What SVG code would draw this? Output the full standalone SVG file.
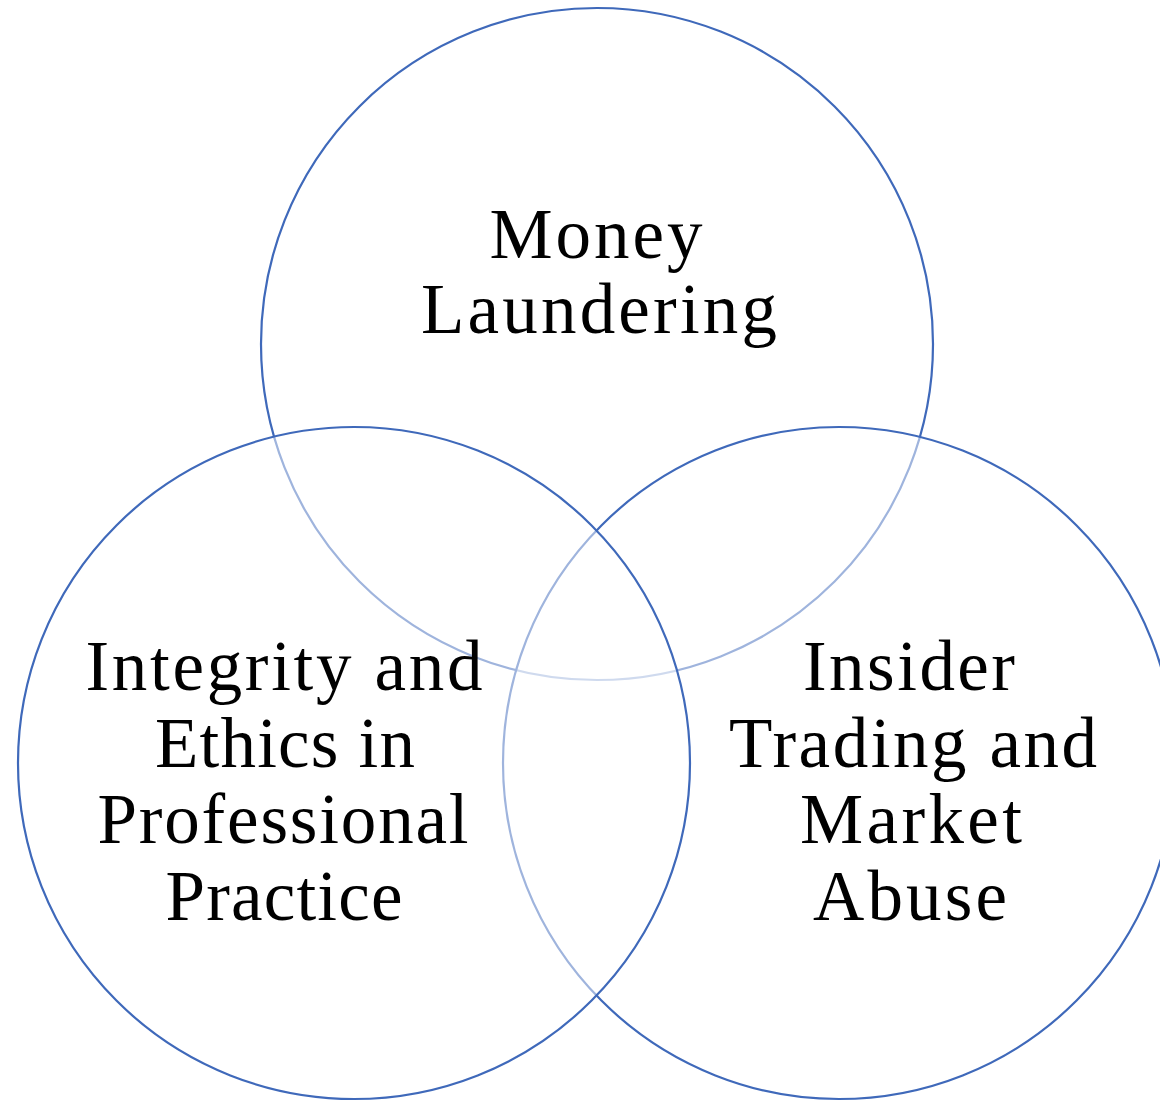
<svg xmlns="http://www.w3.org/2000/svg" width="1160" height="1101" viewBox="0 0 1160 1101">
<style>
.c{fill:#ffffff;fill-opacity:0.5;stroke:#3F69BA;stroke-width:2.2}
.t{font-family:"Liberation Serif","Times New Roman",serif;font-size:71px;fill:#000;text-anchor:middle}
</style>
<rect width="1160" height="1101" fill="#ffffff"/>
<g id="money-laundering">
<circle class="c" cx="597" cy="344" r="336"/>
</g>
<g id="insider-trading">
<circle class="c" cx="839" cy="763" r="336"/>
</g>
<g id="integrity-ethics">
<circle class="c" cx="354" cy="763" r="336"/>
</g>
<g id="labels">
<text class="t" x="596" y="258" textLength="213" lengthAdjust="spacing">Money</text>
<text class="t" x="599" y="333" textLength="356" lengthAdjust="spacing">Laundering</text>
<text class="t" x="284" y="690" textLength="397" lengthAdjust="spacing">Integrity and</text>
<text class="t" x="285" y="767" textLength="260" lengthAdjust="spacing">Ethics in</text>
<text class="t" x="283" y="843" textLength="371" lengthAdjust="spacing">Professional</text>
<text class="t" x="284" y="920" textLength="237" lengthAdjust="spacing">Practice</text>
<text class="t" x="909" y="690" textLength="212" lengthAdjust="spacing">Insider</text>
<text class="t" x="913" y="767" textLength="368" lengthAdjust="spacing">Trading and</text>
<text class="t" x="911" y="843" textLength="222" lengthAdjust="spacing">Market</text>
<text class="t" x="910" y="920" textLength="194" lengthAdjust="spacing">Abuse</text>
</g>
</svg>
